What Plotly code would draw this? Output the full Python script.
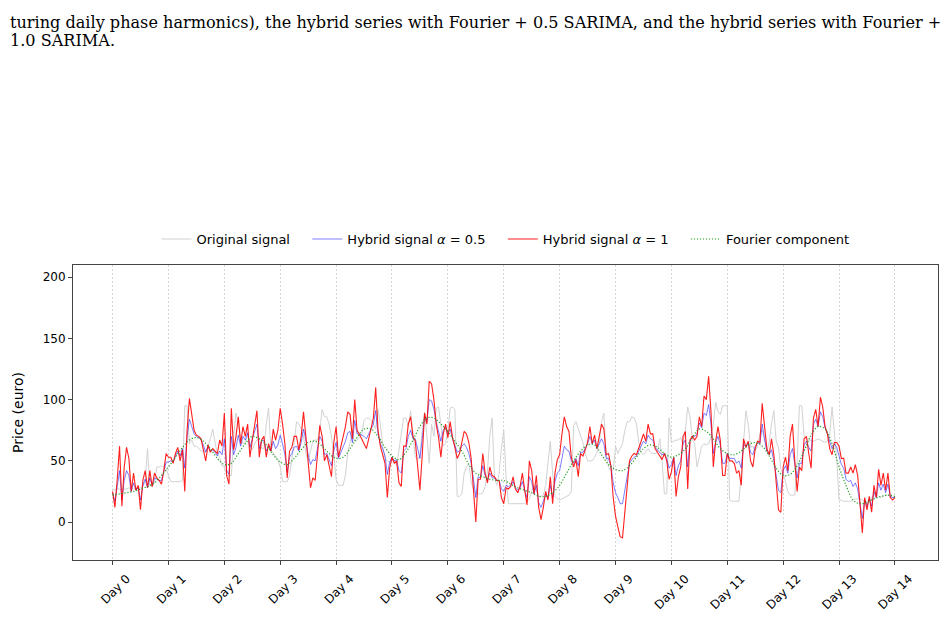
import plotly.graph_objects as go

# ---------------- data (hourly, 14 days) ----------------
day_labels = [f"Day {d}" for d in range(15)]
day_ticks = [24 * d for d in range(15)]

original = [
    27, 26, 27, 27, 26, 27, 27, 28, 27, 27, 27, 28, 28, 29, 33, 60, 30, 29, 32, 45, 45, 46, 45, 44,
    38, 33, 33, 33, 33, 33, 34, 95, 95, 64, 67, 62, 62, 60, 58, 58, 58, 62, 68, 76, 64, 55, 53, 46,
    45, 38, 38, 38, 70, 89, 80, 68, 64, 65, 72, 62, 59, 64, 67, 68, 60, 60, 80, 93, 59, 56, 53, 51,
    45, 33, 33, 33, 38, 50, 65, 82, 80, 76, 70, 56, 50, 58, 66, 67, 67, 75, 92, 86, 86, 80, 70, 55,
    35, 30, 30, 30, 38, 57, 65, 72, 66, 67, 69, 72, 83, 85, 85, 83, 80, 76, 92, 80, 62, 52, 50, 49,
    50, 50, 46, 58, 72, 85, 85, 78, 91, 70, 53, 51, 54, 75, 90, 70, 48, 80, 70, 93, 94, 80, 62, 64,
    75, 93, 94, 92, 21, 21, 23, 40, 45, 48, 33, 27, 23, 23, 23, 24, 29, 41, 70, 85, 37, 30, 40, 60,
    75, 37, 15, 15, 15, 15, 15, 15, 15, 15, 17, 19, 25, 30, 26, 21, 21, 22, 30, 50, 66, 40, 21, 19,
    18, 19, 20, 21, 22, 25, 79, 82, 76, 70, 65, 56, 50, 50, 50, 53, 57, 64, 82, 89, 55, 45, 42, 42,
    62, 56, 60, 64, 75, 82, 82, 86, 85, 80, 65, 57, 55, 58, 60, 57, 56, 56, 57, 68, 50, 23, 23, 85,
    65, 66, 67, 67, 69, 63, 75, 94, 86, 67, 64, 45, 55, 62, 64, 63, 64, 70, 80, 98, 90, 88, 95, 95,
    95, 18, 17, 17, 17, 17, 40, 65, 91, 80, 61, 62, 58, 62, 72, 75, 68, 58, 65, 80, 91, 66, 61, 43,
    40, 33, 25, 22, 22, 22, 50, 95, 95, 70, 68, 66, 67, 66, 67, 68, 67, 66, 65, 66, 72, 94, 70, 52,
    18, 18, 17, 17, 17, 17, 18, 19, 19, 19, 18, 17, 17, 17, 20, 22, 23, 21, 20, 21, 22, 22, 21, 20,
    20,
]

hybrid_05 = [
    24, 17, 29, 42, 18, 34, 42, 38, 25, 32, 26, 28, 18, 30, 35, 28, 36, 30, 36, 35, 34, 34, 41, 49,
    49, 50, 49, 54, 58, 54, 60, 44, 70, 84, 78, 72, 70, 69, 67, 63, 57, 62, 58, 59, 57, 54, 58, 55,
    68, 42, 39, 70, 55, 61, 71, 62, 70, 67, 73, 61, 68, 74, 80, 60, 66, 67, 58, 62, 58, 66, 60, 63,
    71, 64, 55, 41, 53, 56, 61, 62, 58, 65, 76, 67, 55, 47, 51, 50, 60, 70, 66, 55, 56, 50, 46, 58,
    65, 52, 57, 61, 66, 73, 74, 65, 83, 72, 72, 71, 70, 68, 72, 77, 80, 91, 72, 64, 60, 54, 39, 49,
    53, 50, 51, 42, 40, 58, 60, 70, 75, 68, 68, 60, 52, 68, 86, 82, 100, 99, 92, 82, 75, 66, 75, 78,
    72, 76, 68, 63, 57, 58, 62, 64, 61, 56, 48, 35, 20, 37, 36, 46, 38, 34, 40, 36, 36, 34, 34, 27,
    25, 30, 29, 30, 33, 28, 26, 28, 33, 26, 20, 37, 33, 23, 30, 16, 12, 17, 23, 20, 30, 20, 33, 40,
    42, 52, 62, 59, 58, 50, 48, 52, 46, 57, 57, 60, 64, 70, 64, 67, 60, 64, 68, 64, 52, 52, 46, 32,
    24, 20, 15, 15, 25, 38, 48, 51, 53, 54, 58, 62, 66, 64, 71, 68, 67, 61, 59, 57, 55, 56, 52, 44,
    47, 53, 38, 46, 50, 64, 67, 45, 66, 70, 70, 72, 81, 77, 89, 87, 96, 80, 56, 65, 70, 63, 48, 48,
    56, 52, 52, 52, 48, 50, 44, 64, 61, 65, 57, 55, 62, 65, 64, 80, 68, 58, 55, 59, 50, 36, 26, 24,
    42, 46, 40, 55, 60, 47, 36, 48, 48, 63, 66, 61, 58, 80, 84, 78, 90, 86, 77, 72, 65, 60, 64, 61,
    54, 47, 44, 35, 33, 34, 29, 32, 27, 15, 3, 18, 13, 19, 13, 25, 20, 32, 26, 31, 24, 31, 21, 20,
    20,
]

hybrid_10 = [
    25, 12, 35, 62, 13, 45, 61, 52, 25, 40, 26, 30, 10, 34, 42, 28, 42, 29, 40, 36, 34, 31, 42, 56,
    53, 53, 48, 56, 61, 50, 59, 25, 75, 101, 88, 75, 71, 70, 68, 60, 50, 63, 57, 60, 58, 56, 67, 62,
    89, 38, 31, 93, 59, 70, 86, 64, 78, 70, 80, 53, 67, 78, 91, 53, 67, 70, 53, 64, 58, 76, 67, 75,
    93, 80, 64, 36, 58, 61, 70, 70, 59, 70, 90, 70, 45, 28, 36, 34, 55, 79, 70, 50, 55, 45, 37, 65,
    78, 53, 62, 70, 78, 90, 88, 68, 100, 75, 72, 68, 64, 60, 68, 78, 85, 110, 75, 62, 55, 48, 20, 44,
    53, 48, 50, 32, 29, 62, 62, 80, 86, 70, 66, 45, 26, 55, 89, 80, 115, 113, 100, 80, 69, 53, 72, 80,
    69, 82, 69, 61, 52, 56, 65, 74, 72, 65, 52, 29, 0, 35, 35, 56, 40, 32, 45, 38, 37, 34, 34, 20,
    15, 28, 27, 29, 37, 27, 24, 29, 40, 26, 14, 50, 42, 23, 38, 12, 2, 12, 25, 18, 37, 15, 40, 51,
    55, 72, 86, 78, 74, 53, 45, 51, 37, 56, 54, 59, 65, 78, 64, 71, 60, 70, 80, 76, 55, 56, 46, 20,
    5, -4, -12, -13, 7, 32, 50, 54, 56, 55, 60, 66, 72, 66, 80, 72, 72, 60, 57, 54, 51, 56, 50, 35,
    41, 53, 21, 37, 45, 70, 74, 27, 67, 70, 67, 70, 86, 78, 103, 100, 119, 90, 45, 66, 78, 67, 38, 38,
    56, 50, 50, 48, 40, 42, 30, 68, 61, 66, 50, 45, 60, 66, 65, 97, 75, 60, 55, 68, 55, 30, 10, 8,
    45, 53, 42, 70, 80, 50, 25, 45, 42, 68, 70, 56, 44, 85, 92, 78, 102, 94, 78, 72, 60, 55, 65, 65,
    62, 52, 52, 40, 40, 45, 40, 47, 38, 15, -9, 20, 10, 21, 8, 30, 20, 43, 30, 40, 26, 40, 20, 18,
    20,
]

# Fourier component sampled every 3 hours
fourier = [
    22, 23, 24, 25, 27, 29, 32, 38,
    45, 53, 61, 67, 69, 66, 60, 52,
    47, 48, 56, 64, 70, 68, 63, 55,
    49, 47, 52, 59, 65, 66, 62, 56,
    52, 53, 60, 69, 76, 76, 70, 61,
    54, 51, 57, 67, 78, 85, 85, 80,
    74, 66, 58, 47, 40, 37, 35, 34,
    34, 31, 28, 26, 24, 21, 21, 24,
    30, 40, 50, 58, 63, 63, 55, 47,
    43, 42, 46, 53, 60, 63, 61, 56,
    53, 55, 60, 69, 76, 74, 68, 60,
    56, 55, 58, 63, 65, 62, 54, 44,
    38, 39, 46, 58, 71, 78, 76, 64,
    45, 30, 18, 15, 16, 19, 21, 22,
    21,
]

hours = list(range(len(hybrid_10)))
hours_f = list(range(0, 3 * len(fourier), 3))

pad = "\u00a0\u00a0\u00a0"
fig = go.Figure()
fig.add_trace(go.Scatter(x=hours, y=original, mode="lines", name="Original signal" + pad,
                         line=dict(color="#d2d2d2", width=1)))
fig.add_trace(go.Scatter(x=hours, y=hybrid_05, mode="lines", name="Hybrid signal <i>α</i> = 0.5" + pad,
                         line=dict(color="rgba(40,40,255,0.6)", width=1)))
fig.add_trace(go.Scatter(x=hours, y=hybrid_10, mode="lines", name="Hybrid signal <i>α</i> = 1" + pad,
                         line=dict(color="rgba(255,0,0,0.88)", width=1.1)))
fig.add_trace(go.Scatter(x=hours_f, y=fourier, mode="lines", name="Fourier component",
                         line=dict(color="#22a022", width=1.2, dash="1.2px,1.8px", shape="spline")))

axis_line = "#444444"
fig.update_xaxes(range=[-17, 354.5], tickvals=day_ticks, ticktext=day_labels, tickangle=-45,
                 showgrid=True, gridcolor="#d6d6d6", griddash="2px,2px", gridwidth=0.7,
                 showline=True, mirror=True, linecolor=axis_line, linewidth=1,
                 ticks="outside", ticklen=4, tickcolor=axis_line, zeroline=False,
                 ticklabelshift=14, ticklabelstandoff=2,
                 tickfont=dict(size=12, color="black"))
fig.update_yaxes(range=[-31, 210], tickvals=[0, 50, 100, 150, 200], showgrid=False,
                 showline=True, mirror=True, linecolor=axis_line, linewidth=1,
                 ticks="outside", ticklen=4, tickcolor=axis_line, zeroline=False,
                 tickfont=dict(size=12, color="black"),
                 title=dict(text="Price (euro)", font=dict(size=14, color="black"), standoff=15))

caption1 = ("turing daily phase harmonics), the hybrid series with Fourier + 0.5 SARIMA, "
            "and the hybrid series with Fourier +")
caption2 = "1.0 SARIMA."
for txt, yp in [(caption1, 1.8237), (caption2, 1.7627)]:
    fig.add_annotation(text=txt, xref="paper", yref="paper", x=-0.0751, y=yp,
                       xanchor="left", yanchor="middle", showarrow=False,
                       font=dict(family="DejaVu Serif", size=16.1, color="black"))

fig.update_layout(
    width=947, height=640,
    margin=dict(l=73, r=9, t=265, b=80),
    plot_bgcolor="white", paper_bgcolor="white",
    font=dict(family="DejaVu Sans", color="black"),
    legend=dict(orientation="h", x=0.5, xanchor="center", y=1.088, yanchor="middle",
                font=dict(size=13), bgcolor="rgba(0,0,0,0)"),
)

fig.write_html("out.html")
